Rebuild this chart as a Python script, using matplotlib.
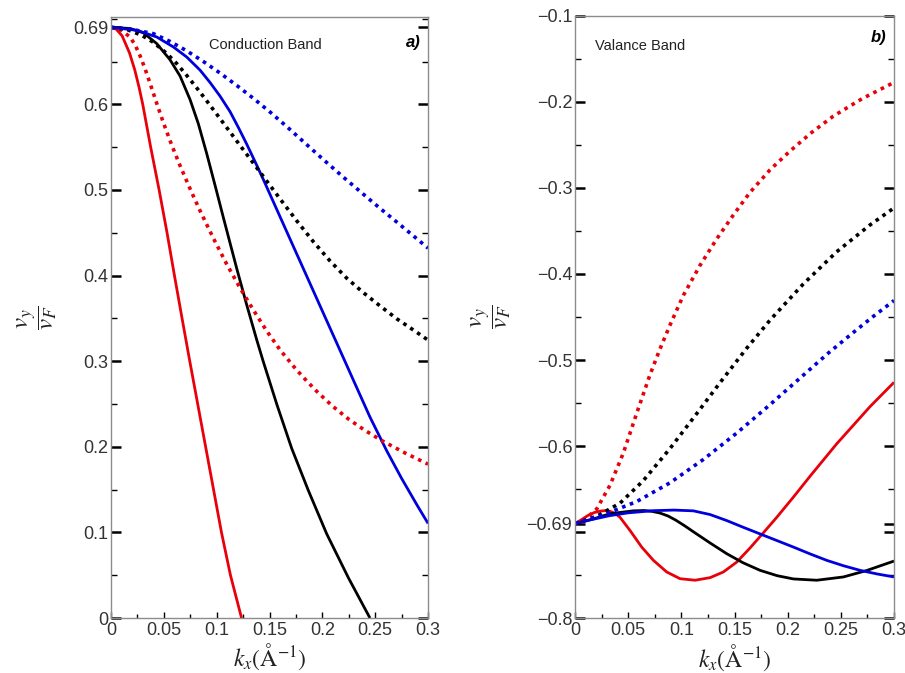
import matplotlib
matplotlib.use("Agg")
import matplotlib.pyplot as plt
from matplotlib.ticker import MultipleLocator

plt.rcParams['font.family'] = ['Liberation Sans', 'DejaVu Sans']
plt.rcParams['mathtext.fontset'] = 'stix'

# ---- panel a) conduction band ----
k_red_s = [0, 0.005, 0.0105, 0.0175, 0.0225, 0.0265, 0.030, 0.0375, 0.0455, 0.053, 0.060,
           0.0672, 0.0745, 0.082, 0.0895, 0.097, 0.1045, 0.113, 0.1235]
v_red_s = [0.69, 0.6877, 0.68, 0.66, 0.64, 0.62, 0.60, 0.55, 0.50, 0.45, 0.40,
           0.35, 0.30, 0.25, 0.20, 0.15, 0.10, 0.05, 0.0]

k_blk_s = [0, 0.018, 0.0306, 0.0432, 0.0558, 0.0653, 0.0748, 0.0826, 0.0906, 0.099, 0.1063,
           0.119, 0.1284, 0.1379, 0.144, 0.157, 0.171, 0.1867, 0.204, 0.2246, 0.245]
v_blk_s = [0.69, 0.6886, 0.6836, 0.671, 0.6521, 0.6331, 0.6055, 0.5774, 0.5422, 0.5027, 0.4677,
           0.408, 0.3657, 0.3248, 0.2998, 0.2491, 0.198, 0.149, 0.0985, 0.047, 0.0]

k_blu_s = [0, 0.0243, 0.0432, 0.059, 0.0716, 0.0842, 0.0937, 0.1032, 0.1126, 0.1205, 0.1284,
           0.1363, 0.1442, 0.155, 0.170, 0.185, 0.200, 0.215, 0.230, 0.245, 0.261, 0.275,
           0.290, 0.300]
v_blu_s = [0.69, 0.6865, 0.6787, 0.667, 0.6553, 0.640, 0.6255, 0.6095, 0.5915, 0.573, 0.5535,
           0.533, 0.512, 0.4823, 0.441, 0.3998, 0.3585, 0.3173, 0.276, 0.2348, 0.195, 0.163,
           0.131, 0.1105]

k_red_d = [0, 0.010, 0.018, 0.0227, 0.0274, 0.0322, 0.0369, 0.0432, 0.0495, 0.0574, 0.0653,
           0.0755, 0.0842, 0.0968, 0.1095, 0.122, 0.1347, 0.1473, 0.160, 0.175, 0.185, 0.196,
           0.210, 0.225, 0.240, 0.256, 0.278, 0.300]
v_red_d = [0.69, 0.6865, 0.6785, 0.6696, 0.6569, 0.6415, 0.6246, 0.6013, 0.5786, 0.5525, 0.5284,
           0.4993, 0.4758, 0.4437, 0.4132, 0.3857, 0.3597, 0.3353, 0.3131, 0.2906, 0.2771, 0.2631,
           0.2471, 0.2321, 0.2194, 0.2074, 0.1929, 0.1797]

k_blk_d = [0, 0.015, 0.029, 0.040, 0.0527, 0.0622, 0.0716, 0.0811, 0.0906, 0.100, 0.110,
           0.120, 0.130, 0.140, 0.150, 0.160, 0.1757, 0.1915, 0.2073, 0.223, 0.2388, 0.2546,
           0.2704, 0.286, 0.300]
v_blk_d = [0.69, 0.6875, 0.6807, 0.6725, 0.6595, 0.6476, 0.6338, 0.6192, 0.604, 0.5885, 0.572,
           0.5555, 0.539, 0.5225, 0.506, 0.4895, 0.464, 0.4395, 0.417, 0.397, 0.380, 0.3645,
           0.3495, 0.3365, 0.3246]

k_blu_d = [0, 0.020, 0.040, 0.0558, 0.0716, 0.0874, 0.1032, 0.119, 0.1347, 0.1505, 0.1663,
           0.182, 0.200, 0.2198, 0.2388, 0.2546, 0.2704, 0.286, 0.300]
v_blu_d = [0.69, 0.6875, 0.6826, 0.6735, 0.6625, 0.650, 0.6365, 0.622, 0.607, 0.591, 0.574,
           0.5565, 0.5365, 0.515, 0.495, 0.4785, 0.4625, 0.4465, 0.432]

# ---- panel b) valance band ----
k_red_s2 = [0, 0.006, 0.012, 0.018, 0.0235, 0.028, 0.0329, 0.038, 0.0423, 0.0517, 0.0627,
            0.0737, 0.0862, 0.0987, 0.1129, 0.127, 0.1395, 0.1521, 0.1646, 0.1771, 0.1897,
            0.2053, 0.221, 0.2461, 0.2775, 0.300]
v_red_s2 = [-0.69, -0.6855, -0.6807, -0.6772, -0.6755, -0.675, -0.6757, -0.6785, -0.6827, -0.698,
            -0.7173, -0.7327, -0.7462, -0.754, -0.7558, -0.7528, -0.7462, -0.7347, -0.7183,
            -0.7007, -0.6827, -0.6593, -0.635, -0.5973, -0.554, -0.5259]

k_blk_s2 = [0, 0.0172, 0.0329, 0.0549, 0.065, 0.0725, 0.080, 0.0875, 0.095, 0.103, 0.1113,
            0.127, 0.1427, 0.158, 0.174, 0.190, 0.2054, 0.2273, 0.2523, 0.2743, 0.300]
v_blk_s2 = [-0.69, -0.6846, -0.6785, -0.6752, -0.6748, -0.6758, -0.6778, -0.6812, -0.6862,
            -0.6925, -0.6995, -0.7125, -0.725, -0.7355, -0.7443, -0.7505, -0.7543, -0.7558,
            -0.752, -0.7445, -0.7335]

k_blu_s2 = [0, 0.015, 0.0329, 0.050, 0.0737, 0.093, 0.1113, 0.127, 0.1427, 0.158, 0.174,
            0.190, 0.2054, 0.221, 0.2367, 0.2525, 0.268, 0.284, 0.300]
v_blu_s2 = [-0.69, -0.6855, -0.6807, -0.6775, -0.675, -0.6743, -0.6752, -0.6795, -0.6865,
            -0.6942, -0.702, -0.7098, -0.7173, -0.7252, -0.7327, -0.739, -0.7443, -0.7485, -0.752]

k_red_d2 = [0, 0.0078, 0.0204, 0.0329, 0.0454, 0.058, 0.0705, 0.080, 0.090, 0.1019, 0.1175,
            0.1333, 0.149, 0.1646, 0.1834, 0.2022, 0.2225, 0.2429, 0.270, 0.300]
v_red_d2 = [-0.69, -0.6868, -0.673, -0.6454, -0.6081, -0.5618, -0.517, -0.4868, -0.4574, -0.4248,
            -0.3901, -0.3592, -0.3313, -0.3052, -0.279, -0.2572, -0.2357, -0.2167, -0.1964, -0.1775]

k_blk_d2 = [0, 0.0204, 0.0423, 0.0642, 0.0893, 0.1144, 0.1364, 0.1615, 0.1834, 0.2147, 0.246,
            0.2775, 0.300]
v_blk_d2 = [-0.69, -0.6815, -0.6663, -0.6401, -0.6028, -0.5623, -0.5262, -0.4862, -0.4536,
            -0.4116, -0.3743, -0.343, -0.3233]

k_blu_d2 = [0, 0.0266, 0.058, 0.0893, 0.1207, 0.1521, 0.1834, 0.2147, 0.2386, 0.2617, 0.280, 0.300]
v_blu_d2 = [-0.69, -0.6799, -0.6644, -0.6426, -0.6155, -0.5848, -0.5518, -0.5176, -0.4915, -0.468,
            -0.4498, -0.4309]

RED = '#e8000b'
BLUE = '#0000dd'
BLACK = '#000000'
DOT = (0, (1.0, 1.3))

fig = plt.figure(figsize=(9.05, 6.73), dpi=100)
ax1 = fig.add_axes([0.1227, 0.0817, 0.3503, 0.893])
ax2 = fig.add_axes([0.6354, 0.0813, 0.3525, 0.8954])

solid_kw = dict(lw=2.0, solid_capstyle='butt', solid_joinstyle='round')
dot_kw = dict(lw=2.6, linestyle=DOT, dash_capstyle='butt')

ax1.plot(k_red_s, v_red_s, color=RED, **solid_kw)
ax1.plot(k_blk_s, v_blk_s, color=BLACK, **solid_kw)
ax1.plot(k_blu_s, v_blu_s, color=BLUE, **solid_kw)
ax1.plot(k_red_d, v_red_d, color=RED, **dot_kw)
ax1.plot(k_blk_d, v_blk_d, color=BLACK, **dot_kw)
ax1.plot(k_blu_d, v_blu_d, color=BLUE, **dot_kw)

ax2.plot(k_red_s2, v_red_s2, color=RED, **solid_kw)
ax2.plot(k_blk_s2, v_blk_s2, color=BLACK, **solid_kw)
ax2.plot(k_blu_s2, v_blu_s2, color=BLUE, **solid_kw)
ax2.plot(k_red_d2, v_red_d2, color=RED, **dot_kw)
ax2.plot(k_blk_d2, v_blk_d2, color=BLACK, **dot_kw)
ax2.plot(k_blu_d2, v_blu_d2, color=BLUE, **dot_kw)

ax1.set_xlim(0, 0.3)
ax1.set_ylim(0, 0.702)
ax2.set_xlim(0, 0.3)
ax2.set_ylim(-0.8, -0.1)

xticks = [0, 0.05, 0.1, 0.15, 0.2, 0.25, 0.3]
xlabels = ['0', '0.05', '0.1', '0.15', '0.2', '0.25', '0.3']
y1ticks = [0, 0.1, 0.2, 0.3, 0.4, 0.5, 0.6, 0.69]
y1labels = ['0', '0.1', '0.2', '0.3', '0.4', '0.5', '0.6', '0.69']
y2ticks = [-0.8, -0.7, -0.69, -0.6, -0.5, -0.4, -0.3, -0.2, -0.1]
y2labels = ['\u22120.8', '', '\u22120.69', '\u22120.6', '\u22120.5', '\u22120.4', '\u22120.3',
            '\u22120.2', '\u22120.1']

for ax in (ax1, ax2):
    ax.set_xticks(xticks)
    ax.set_xticklabels(xlabels)
    ax.xaxis.set_minor_locator(MultipleLocator(0.025))
    ax.yaxis.set_minor_locator(MultipleLocator(0.05))
    ax.tick_params(which='both', direction='in', left=True, right=True, bottom=True, top=False,
                   labelsize=13, labelcolor='#333333', color='black')
    ax.tick_params(axis='y', which='major', length=7, width=1.8, pad=2)
    ax.tick_params(axis='y', which='minor', length=4, width=1.0)
    ax.tick_params(axis='x', which='major', length=4, width=1.0, pad=3)
    ax.tick_params(axis='x', which='minor', length=3, width=1.0)
    for s in ax.spines.values():
        s.set_color('#8c8c8c')
        s.set_linewidth(1.0)
    ax.set_xlabel(r'$k_x(\mathrm{\AA}^{-1})$', fontsize=17, color='#222222', labelpad=2)
    ax.set_ylabel(r'$\dfrac{v_y}{v_F}$', fontsize=18, color='#222222', labelpad=10)

ax1.set_yticks(y1ticks)
ax1.set_yticklabels(y1labels)
ax2.set_yticks(y2ticks)
ax2.set_yticklabels(y2labels)

ax1.text(0.1457, 0.669, 'Conduction Band', fontsize=10.5, ha='center', va='center', color='#222222')
ax1.text(0.293, 0.672, 'a)', fontsize=12, ha='right', va='center', fontweight='bold', style='italic')
ax2.text(0.019, -0.135, 'Valance Band', fontsize=10.5, ha='left', va='center', color='#222222')
ax2.text(0.293, -0.125, 'b)', fontsize=12, ha='right', va='center', fontweight='bold', style='italic')

fig.savefig('out.png', dpi=100)
